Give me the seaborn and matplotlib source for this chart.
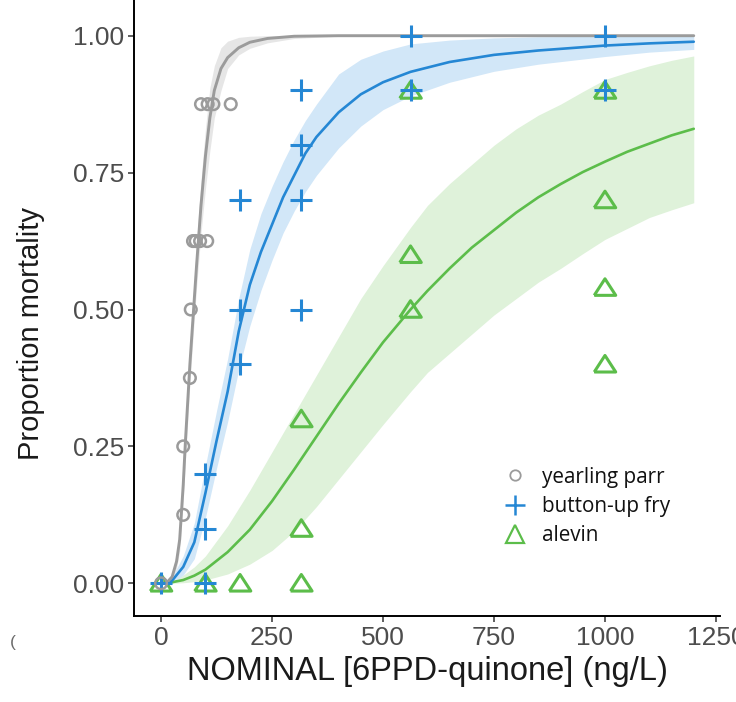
import matplotlib
matplotlib.use("Agg")
import matplotlib.pyplot as plt
import seaborn as sns
import pandas as pd
from matplotlib.lines import Line2D
from matplotlib.font_manager import FontProperties

# ---- observed proportion mortality per tank ----
parr_conc = [0, 50, 50, 65, 67, 72, 78, 88, 104, 90, 105, 118, 157]
parr_mort = [0, 0.125, 0.25, 0.375, 0.5, 0.625, 0.625, 0.625, 0.625,
             0.875, 0.875, 0.875, 0.875]

fry_conc = [0, 100, 100, 100, 178, 178, 178, 316, 316, 316, 316, 562, 562, 1000, 1000]
fry_mort = [0, 0, 0.1, 0.2, 0.4, 0.5, 0.7, 0.5, 0.7, 0.8, 0.9, 0.9, 1.0, 0.9, 1.0]

alev_conc = [0, 100, 178, 316, 316, 316, 562, 562, 562, 1000, 1000, 1000, 1000]
alev_mort = [0, 0, 0, 0, 0.1, 0.3, 0.5, 0.6, 0.9, 0.4, 0.54, 0.7, 0.9]

# ---- fitted dose-response curves with 95% confidence bands ----
parr_x = [0, 15, 25, 35, 42, 50, 55, 60, 65, 70, 75, 80, 85, 90, 100, 110, 120,
          135, 150, 175, 200, 240, 300, 400, 600, 900, 1200]
parr_fit = [0, 0.003, 0.012, 0.04, 0.08, 0.18, 0.26, 0.33, 0.40, 0.46, 0.52, 0.58,
            0.635, 0.69, 0.78, 0.85, 0.90, 0.94, 0.96, 0.978, 0.988, 0.995, 0.999,
            1.0, 1.0, 1.0, 1.0]
parr_lo = [0, 0.001, 0.007, 0.028, 0.06, 0.15, 0.225, 0.295, 0.365, 0.425, 0.483,
           0.54, 0.59, 0.64, 0.72, 0.79, 0.85, 0.9, 0.94, 0.965, 0.977, 0.987,
           0.995, 0.999, 1.0, 1.0, 1.0]
parr_hi = [0, 0.005, 0.018, 0.055, 0.1, 0.21, 0.295, 0.365, 0.435, 0.497, 0.558,
           0.62, 0.68, 0.735, 0.83, 0.905, 0.945, 0.978, 0.99, 0.997, 0.999, 1.0,
           1.0, 1.0, 1.0, 1.0, 1.0]

fry_x = [0, 25, 50, 75, 100, 125, 150, 175, 200, 225, 250, 275, 300, 325, 350,
         400, 450, 500, 562, 650, 750, 850, 1000, 1100, 1200]
fry_fit = [0, 0.005, 0.03, 0.075, 0.165, 0.26, 0.35, 0.46, 0.545, 0.605, 0.655,
           0.705, 0.745, 0.785, 0.815, 0.86, 0.893, 0.915, 0.934, 0.952, 0.965,
           0.973, 0.982, 0.986, 0.989]
fry_lo = [0, 0.001, 0.015, 0.045, 0.12, 0.21, 0.295, 0.39, 0.47, 0.535, 0.59,
          0.64, 0.68, 0.715, 0.745, 0.795, 0.835, 0.865, 0.89, 0.915, 0.935,
          0.948, 0.962, 0.97, 0.975]
fry_hi = [0, 0.012, 0.05, 0.11, 0.215, 0.315, 0.41, 0.52, 0.61, 0.675, 0.725,
          0.77, 0.81, 0.845, 0.875, 0.93, 0.957, 0.972, 0.985, 0.992, 0.996,
          0.998, 0.999, 0.999, 1.0]

alev_x = [0, 25, 50, 75, 100, 150, 200, 250, 300, 350, 400, 450, 500, 562, 600,
          650, 700, 750, 800, 850, 900, 950, 1000, 1050, 1100, 1150, 1200]
alev_fit = [0, 0.002, 0.006, 0.014, 0.025, 0.057, 0.098, 0.15, 0.208, 0.268,
            0.328, 0.385, 0.44, 0.5, 0.534, 0.575, 0.613, 0.645, 0.677, 0.705,
            0.729, 0.751, 0.77, 0.788, 0.803, 0.818, 0.83]
alev_lo = [0, 0, 0.001, 0.003, 0.006, 0.017, 0.035, 0.06, 0.095, 0.14, 0.19,
           0.24, 0.29, 0.35, 0.385, 0.42, 0.455, 0.49, 0.52, 0.55, 0.575, 0.602,
           0.628, 0.648, 0.668, 0.682, 0.695]
alev_hi = [0, 0.005, 0.015, 0.03, 0.05, 0.105, 0.17, 0.24, 0.31, 0.38, 0.45,
           0.52, 0.58, 0.65, 0.69, 0.73, 0.765, 0.8, 0.83, 0.855, 0.875, 0.898,
           0.92, 0.933, 0.945, 0.955, 0.963]

stage_labels = ["yearling parr", "button-up fry", "alevin"]
x_ticks = [0, 250, 500, 750, 1000, 1250]
y_ticks = [0, 0.25, 0.5, 0.75, 1.0]

GRAY, GRAY_BAND = "#9b9b9b", "#e6e6e6"
BLUE, BLUE_BAND = "#2587d4", "#d2e7f8"
GREEN, GREEN_BAND = "#5cbd4a", "#dff2da"

sns.set_theme(style="ticks")
plt.rcParams["font.family"] = ["Liberation Sans", "DejaVu Sans"]

W, H = 736, 702
fig = plt.figure(figsize=(W / 100, H / 100), dpi=100)
ax = fig.add_axes([134.4 / W, 86 / H, 586 / W, 616 / H])

# confidence bands
ax.fill_between(alev_x, alev_lo, alev_hi, color=GREEN_BAND, lw=0, zorder=1)
ax.fill_between(fry_x, fry_lo, fry_hi, color=BLUE_BAND, lw=0, zorder=1)
ax.fill_between(parr_x, parr_lo, parr_hi, color=GRAY_BAND, lw=0, zorder=1)

# fitted curves
sns.lineplot(x=alev_x, y=alev_fit, color=GREEN, lw=1.9, ax=ax, zorder=2)
sns.lineplot(x=fry_x, y=fry_fit, color=BLUE, lw=1.9, ax=ax, zorder=2)
sns.lineplot(x=parr_x, y=parr_fit, color=GRAY, lw=2.1, ax=ax, zorder=2)

# observations
tri = [(-1, -0.72), (1, -0.72), (0, 0.82), (-1, -0.72)]
sns.scatterplot(x=alev_conc, y=alev_mort, marker=tri, s=240, color=GREEN,
                facecolor="none", edgecolor=GREEN, linewidth=2.2, ax=ax, zorder=3)
sns.scatterplot(x=fry_conc, y=fry_mort, marker="+", s=270, color=BLUE,
                linewidth=2.2, ax=ax, zorder=4)
sns.scatterplot(x=parr_conc, y=parr_mort, marker="o", s=70, color=GRAY,
                facecolor="none", edgecolor=GRAY, linewidth=1.8, ax=ax, zorder=5)

ax.set_xlim(-60, 1260)
ax.set_ylim(-0.0597, 1.0652)
ax.set_xticks(x_ticks)
ax.set_xticklabels([str(t) for t in x_ticks])
ax.set_yticks(y_ticks)
ax.set_yticklabels([f"{t:.2f}" for t in y_ticks])
sns.despine(ax=ax)
for side in ("left", "bottom"):
    ax.spines[side].set_linewidth(1.4)
    ax.spines[side].set_color("black")
ax.tick_params(axis="both", length=4.5, width=1.1, color="#333333",
               labelsize=19, labelcolor="#4d4d4d", pad=3)

ax.set_xlabel("NOMINAL [6PPD-quinone] (ng/L)", fontsize=23.5, color="#1a1a1a",
              labelpad=4)
ax.set_ylabel("Proportion mortality", fontsize=21, color="#1a1a1a")
ax.yaxis.set_label_coords(-0.152, (616 - 334) / 616)

handles = [
    Line2D([], [], ls="", marker="o", ms=7.5, mfc="none", mec=GRAY, mew=1.3),
    Line2D([], [], ls="", marker="+", ms=14, mec=BLUE, mew=1.8),
    Line2D([], [], ls="", marker="^", ms=13.5, mfc="none", mec=GREEN, mew=1.6),
]
ax.legend(handles=handles, labels=stage_labels, frameon=False, loc="upper left",
          bbox_to_anchor=(505 / W, 1 - 466.5 / H), bbox_transform=fig.transFigure,
          prop=FontProperties(family="Open Sans", size=14.9), labelcolor="#111111",
          handlelength=0.97, handletextpad=0.8, labelspacing=0.4, borderpad=0,
          borderaxespad=0)

fig.text(13 / W, 1 - 643 / H, "(", color="#6b6b6b", fontsize=12.5,
         ha="center", va="center")

fig.savefig("out.png", dpi=100)
